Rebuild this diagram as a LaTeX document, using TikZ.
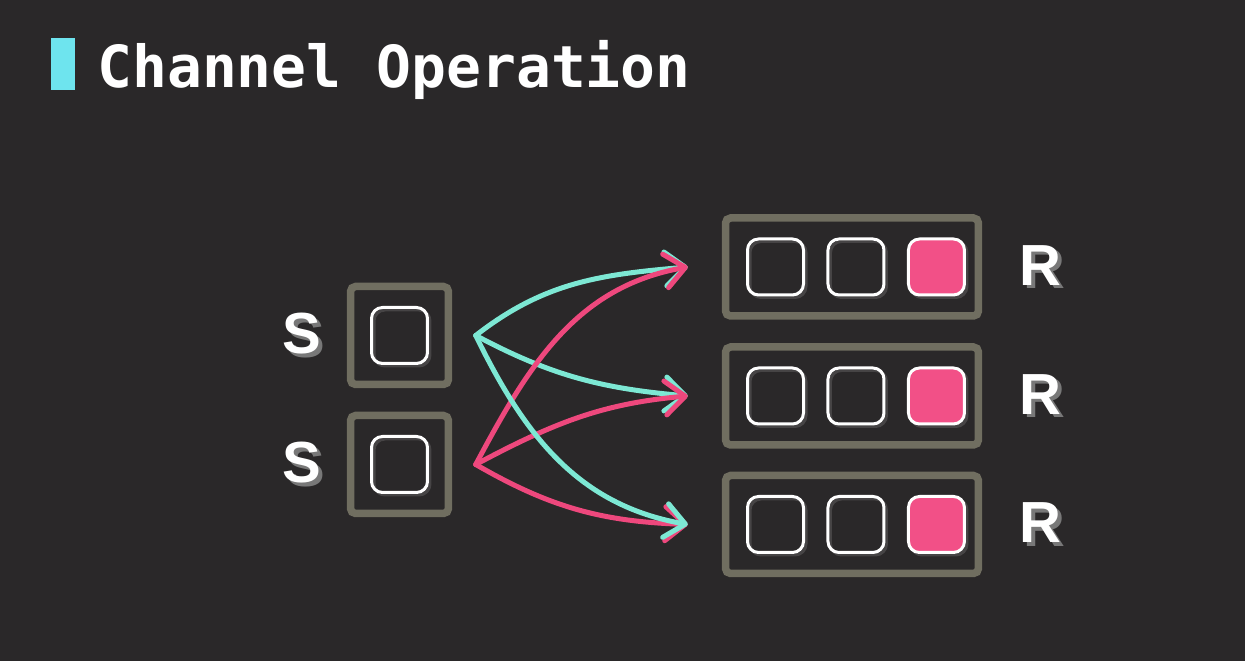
\documentclass[tikz,border=0pt]{standalone}
\usepackage{fontspec}
\setmainfont{Liberation Sans}
\newfontfamily\codefont{DejaVu Sans Mono}
\usetikzlibrary{arrows.meta,positioning,calc,shadows}

\definecolor{bgdark}{RGB}{42,40,41}
\definecolor{barcyan}{RGB}{110,228,238}
\definecolor{boxgray}{RGB}{112,110,96}
\definecolor{slotshadow}{RGB}{70,68,69}
\definecolor{slotpink}{RGB}{242,80,135}
\definecolor{flowcyan}{RGB}{125,232,212}
\definecolor{flowpink}{RGB}{238,72,125}
\definecolor{lblshadow}{RGB}{120,120,120}

% letter with its grey copy a little lower right
\newcommand\lifted[1]{\makebox[0pt][l]{\kern2pt\raisebox{-2pt}{\textcolor{lblshadow}{#1}}}#1}

\tikzset{
  chanbox/.style={draw=boxgray, line width=0.15cm, rounded corners=0.1cm,
    minimum height=1.96cm},
  slot/.style={draw=white, line width=0.06cm, rounded corners=0.22cm,
    minimum size=1.12cm, inner sep=0pt,
    general shadow={shadow xshift=0.05cm, shadow yshift=-0.05cm,
      draw=slotshadow, line width=0.06cm}},
  fullslot/.style={slot, fill=slotpink},
  lbl/.style={text=white, inner sep=0pt, font=\fontsize{33}{33}\selectfont\bfseries},
  flow/.style={line width=0.1cm, line cap=round,
    -{Straight Barb[round, length=0.4cm, width=0.68cm]}}
}

\begin{document}
\begin{tikzpicture}[x=0.02cm, y=0.02cm]

	\fill[bgdark] (0,0) rectangle (1245,661);
	\useasboundingbox (0,0) rectangle (1245,661);

	% title
	\fill[barcyan] (51,571) rectangle (75,623);
	\node[anchor=base west, inner sep=0pt, text=white,
	  font=\codefont\fontsize{33}{33}\selectfont\bfseries] (title) at (97,573) {Channel Operation};

	% senders
	\node[chanbox, minimum width=1.96cm] (s1) at (399.5,325.5) {};
	\node[chanbox, minimum width=1.96cm] (s2) at (399.5,196.5) {};
	\node[slot] (s1a) at (s1) {};
	\node[slot] (s2a) at (s2) {};
	\node[lbl, left=0.5cm of s1] (s1l) {\lifted{S}};
	\node[lbl, left=0.5cm of s2] (s2l) {\lifted{S}};

	% receivers
	\node[chanbox, minimum width=5.06cm] (r1) at (852,394) {};
	\node[chanbox, minimum width=5.06cm] (r2) at (852,265) {};
	\node[chanbox, minimum width=5.06cm] (r3) at (852,136.5) {};

	\node[slot] (r1a) at (775.5,394) {};
	\node[slot, right=0.43cm of r1a] (r1b) {};
	\node[fullslot, right=0.43cm of r1b] (r1c) {};
	\node[slot] (r2a) at (775.5,265) {};
	\node[slot, right=0.43cm of r2a] (r2b) {};
	\node[fullslot, right=0.43cm of r2b] (r2c) {};
	\node[slot] (r3a) at (775.5,136.5) {};
	\node[slot, right=0.43cm of r3a] (r3b) {};
	\node[fullslot, right=0.43cm of r3b] (r3c) {};

	\node[lbl, right=0.74cm of r1] (r1l) {\lifted{R}};
	\node[lbl, right=0.74cm of r2] (r2l) {\lifted{R}};
	\node[lbl, right=0.74cm of r3] (r3l) {\lifted{R}};

	% ends of the arrows
	\coordinate (s1o) at ([xshift=0.47cm]s1.east);
	\coordinate (s2o) at ([xshift=0.47cm]s2.east);
	\coordinate (r1i) at ([xshift=-0.68cm]r1.west);
	\coordinate (r2i) at ([xshift=-0.68cm]r2.west);
	\coordinate (r3i) at ([xshift=-0.68cm]r3.west);

	\draw[flow, flowcyan] (s1o) to[out=38, in=185] (r1i);
	\draw[flow, flowcyan] (s1o) to[out=-28, in=175] (r2i);
	\draw[flow, flowpink] (s2o) to[out=62, in=190] (r1i);
	\draw[flow, flowpink] (s2o) to[out=28, in=185] (r2i);
	\draw[flow, flowpink] (s2o) to[out=-30, in=178] (r3i);
	\draw[flow, flowcyan] (s1o) to[out=-64, in=170] (r3i);

\end{tikzpicture}
\end{document}
